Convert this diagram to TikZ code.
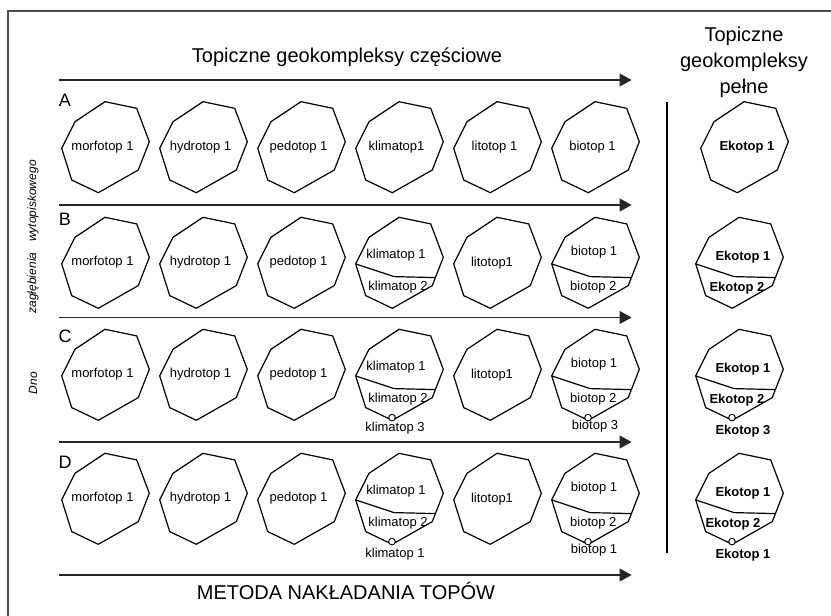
\documentclass[tikz,border=0pt]{standalone}
\usepackage{fontspec}
\setmainfont{Liberation Sans}
\usetikzlibrary{arrows.meta}
\begin{document}
\begin{tikzpicture}[x=0.75pt,y=-0.75pt,
  octline/.style={draw=black, line width=0.9pt, line join=miter},
  lab/.style={inner sep=0pt, font=\fontsize{9.75}{11}\selectfont},
  ekolab/.style={inner sep=0pt, font=\fontsize{9.75}{11}\selectfont\bfseries},
  head/.style={inner sep=0pt, anchor=base, font=\fontsize{15}{18}\selectfont},
  rowlab/.style={inner sep=0pt, font=\fontsize{13.5}{16}\selectfont},
  side/.style={inner sep=0pt, rotate=90, font=\fontsize{9}{11}\selectfont\itshape},
  flow/.style={draw=black!85, line width=1.3pt, -{Triangle[length=9pt,width=9.5pt]}},
  frameline/.style={draw=black!70, line width=1.5pt},
  octo/.pic={\draw[octline] (0,-45.3) -- (31.7,-38.7) -- (44.3,-5.3) -- (33.3,23) -- (-6.7,45.7) -- (-33.3,33) -- (-43.3,1.3) -- (-30,-25.3) -- cycle;},
  cut/.pic={\draw[octline] (-43.3,1.3) -- (-5,14) -- (36.3,15);},
  knob/.pic={\draw[octline, fill=white, line width=0.7pt] (-7,43) circle[radius=3.3];}
]
\useasboundingbox (0,0) rectangle (831,616);
\fill[white] (0,0) rectangle (831,616);
% frame
\coordinate (fbl) at (8,616);
\coordinate (ftl) at (8,11);
\coordinate (ftr) at (831,11);
\draw[frameline] (fbl) -- (ftl) -- (ftr);

% headers
\node[head] (title) at (347,63) {Topiczne geokompleksy częściowe};
\node[head] (rh1) at (744,41.7) {Topiczne};
\node[head] (rh2) at (744,68) {geokompleksy};
\node[head] (rh3) at (744,94) {pełne};
\node[head] (bottom) at (346,599) {METODA NAKŁADANIA TOPÓW};

% arrows
\foreach \n/\y in {0/80, 1/205, 2/317.5, 3/442, 4/575}{
  \coordinate (as\n) at (59.3,\y);
  \coordinate (ae\n) at (631.7,\y);
  \draw[flow] (as\n) -- (ae\n);
}

% vertical separator
\coordinate (vt) at (667,102);
\coordinate (vb) at (667,553);
\draw[line width=0.9pt] (vt) -- (vb);

% row letters
\node[rowlab] (LA) at (65,100) {A};
\node[rowlab] (LB) at (65,219) {B};
\node[rowlab] (LC) at (65,336) {C};
\node[rowlab] (LD) at (65,462) {D};

% side texts
\node[side] (s1) at (33,201) {wytopiskowego};
\node[side] (s2) at (33,283) {zagłębienia};
\node[side] (s3) at (33,383) {Dno};

% row A
\pic at (105,147) {octo};
\node[lab] (mA) at (102.5,147) {morfotop 1};
\pic at (203,147) {octo};
\node[lab] (hA) at (200.5,147) {hydrotop 1};
\pic at (301,147) {octo};
\node[lab] (pA) at (298.5,147) {pedotop 1};
\pic at (399,147) {octo};
\node[lab] (kA) at (396.5,147) {klimatop1};
\pic at (497,147) {octo};
\node[lab] (lA) at (494.5,147) {litotop 1};
\pic at (595,147) {octo};
\node[lab] (bA) at (592.5,147) {biotop 1};
\pic at (744,147) {octo};
\node[ekolab] (eA) at (747,147) {Ekotop 1};

% rows B, C, D
\foreach \r/\y/\ek in {B/262.6/2, C/374.6/2, D/498.6/6}{
  \pic at (105,\y) {octo};
  \node[lab] (m\r) at (102.5,\y) {morfotop 1};
  \pic at (203,\y) {octo};
  \node[lab] (h\r) at (200.5,\y) {hydrotop 1};
  \pic at (301,\y) {octo};
  \node[lab] (p\r) at (298.5,\y) {pedotop 1};
  \pic at (399,\y) {octo};
  \pic at (399,\y) {cut};
  \node[lab] (ka\r) at (396,\y-7.5) {klimatop 1};
  \node[lab] (kb\r) at (398,\y+25) {klimatop 2};
  \pic at (497,\y) {octo};
  \node[lab] (l\r) at (492,\y+0.7) {litotop1};
  \pic at (595,\y) {octo};
  \pic at (595,\y) {cut};
  \node[lab] (ba\r) at (594,\y-10) {biotop 1};
  \node[lab] (bb\r) at (593.3,\y+25) {biotop 2};
  \pic at (739,\y) {octo};
  \pic at (739,\y) {cut};
  \node[ekolab] (ea\r) at (743,\y-5.5) {Ekotop 1};
  \node[ekolab] (eb\r) at (739-\ek,\y+25.5) {Ekotop 2};
}

% row C extras
\pic at (399,374.6) {knob};
\pic at (595,374.6) {knob};
\pic at (739,374.6) {knob};
\node[lab] (kcC) at (395,428.5) {klimatop 3};
\node[lab] (bcC) at (595,426) {biotop 3};
\node[ekolab] (ecC) at (743,430.7) {Ekotop 3};

% row D extras
\pic at (399,498.6) {knob};
\pic at (595,498.6) {knob};
\pic at (739,498.6) {knob};
\node[lab] (kcD) at (395,554) {klimatop 1};
\node[lab] (bcD) at (594,550) {biotop 1};
\node[ekolab] (ecD) at (743,555) {Ekotop 1};
\end{tikzpicture}
\end{document}
